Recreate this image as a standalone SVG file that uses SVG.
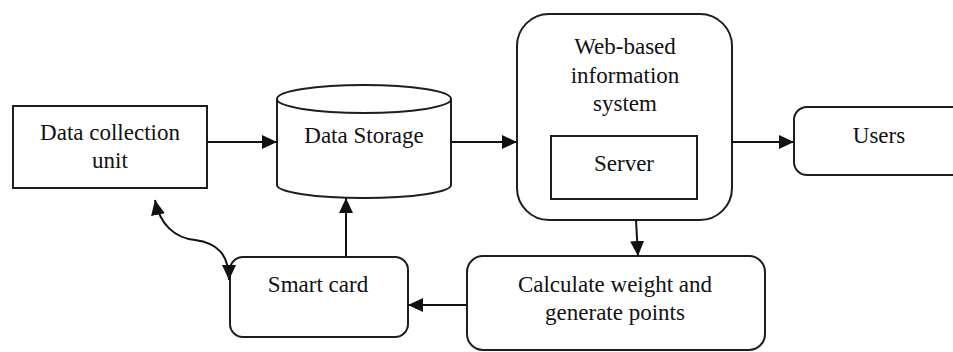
<svg xmlns="http://www.w3.org/2000/svg" width="953" height="352" viewBox="0 0 953 352">
  <style>
    .box { fill: #ffffff; stroke: #1e1e1e; stroke-width: 2; }
    .lbl { font-family: "Liberation Serif", "Times New Roman", serif; font-size: 23px; fill: #111111; text-anchor: middle; }
    .edge { fill: none; stroke: #111111; stroke-width: 2; }
  </style>
  <defs>
    <marker id="arr" markerUnits="userSpaceOnUse" markerWidth="16" markerHeight="14" refX="15" refY="7" orient="auto-start-reverse">
      <path d="M0,0 L15,7 L0,14 z" fill="#111111"/>
    </marker>
  </defs>
  <rect width="953" height="352" fill="#ffffff"/>

  <g id="data-collection-unit">
    <rect class="box" x="13" y="106" width="194" height="82"/>
    <text class="lbl" x="110" y="140">Data collection</text>
    <text class="lbl" x="110" y="168">unit</text>
  </g>

  <g id="data-storage">
    <path class="box" d="M277,99 L277,185 A87,13 0 0 0 451,185 L451,99"/>
    <ellipse class="box" cx="364" cy="99" rx="87" ry="14"/>
    <text class="lbl" x="364" y="143">Data Storage</text>
  </g>

  <g id="web-system">
    <rect class="box" x="517" y="14" width="215" height="206" rx="32" ry="32"/>
    <text class="lbl" x="625" y="54">Web-based</text>
    <text class="lbl" x="625" y="83">information</text>
    <text class="lbl" x="625" y="111">system</text>
  </g>

  <g id="server">
    <rect class="box" x="551" y="136" width="146" height="63"/>
    <text class="lbl" x="624" y="171">Server</text>
  </g>

  <g id="users">
    <rect class="box" x="794" y="107" width="180" height="68" rx="13" ry="13"/>
    <text class="lbl" x="879" y="143">Users</text>
  </g>

  <g id="calculate">
    <rect class="box" x="467" y="256" width="298" height="94" rx="16" ry="16"/>
    <text class="lbl" x="615" y="292">Calculate weight and</text>
    <text class="lbl" x="615" y="320">generate points</text>
  </g>

  <g id="smart-card">
    <rect class="box" x="230" y="257" width="178" height="80" rx="13" ry="13"/>
    <text class="lbl" x="318" y="292">Smart card</text>
  </g>

  <g id="connectors">
    <path class="edge" d="M207,142 L277,142" marker-end="url(#arr)"/>
    <path class="edge" d="M451,142 L517,142" marker-end="url(#arr)"/>
    <path class="edge" d="M732,142 L794,142" marker-end="url(#arr)"/>
    <path class="edge" d="M636,220 L638,256" marker-end="url(#arr)"/>
    <path class="edge" d="M467,305 L408,305" marker-end="url(#arr)"/>
    <path class="edge" d="M346,257 L346,198" marker-end="url(#arr)"/>
    <path class="edge" d="M155,200 C160,225 175,238 195,240 C217,243 229,254 229,280" marker-start="url(#arr)" marker-end="url(#arr)"/>
  </g>
</svg>
